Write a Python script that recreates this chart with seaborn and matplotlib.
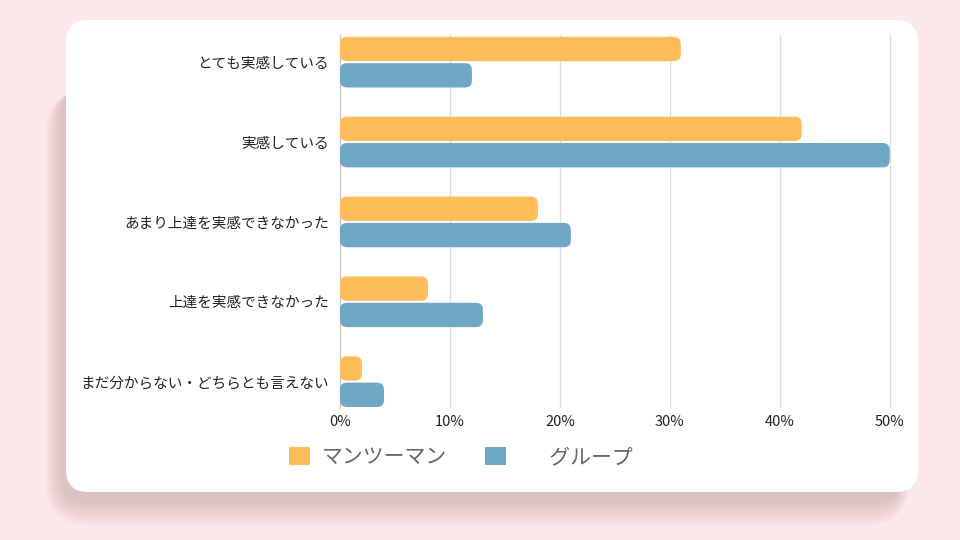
import pandas as pd
import matplotlib
matplotlib.use("Agg")
import matplotlib.pyplot as plt
import seaborn as sns
from matplotlib.patches import FancyBboxPatch, Patch

# Data (percent)
categories = ["とても実感している", "実感している", "あまり上達を実感できなかった",
              "上達を実感できなかった", "まだ分からない・どちらとも言えない"]
man_to_man = [31, 42, 18, 8, 2]
group = [12, 50, 21, 13, 4]
series_names = ["マンツーマン", "\u3000\u2002グループ"]
x_ticks = [0, 10, 20, 30, 40, 50]
x_tick_labels = ["0%", "10%", "20%", "30%", "40%", "50%"]

df = pd.DataFrame({
    "category": categories * 2,
    "value": man_to_man + group,
    "series": [series_names[0]] * len(categories) + [series_names[1]] * len(categories),
})

colors = ["#FFBD5A", "#6EA8C4"]
bg = "#FDE8E9"

sns.set_style("white")
plt.rcParams["font.family"] = ["Noto Sans CJK JP", "DejaVu Sans"]

fig = plt.figure(figsize=(9.6, 5.4), dpi=100)
fig.patch.set_facecolor(bg)

# card shadow: soft, shifted down and a bit to the left
card_l, card_r, card_t, card_b = 66, 918, 20, 492
dx, dy = -4, 10
for i in range(16):
    g = 1.6 * i  # px grow
    l = card_l + dx - g * 0.7
    r = card_r + dx + g * 0.4 - 14
    t = card_t + dy + 60
    b = card_b + dy + g
    sh = FancyBboxPatch((l / 960, 1 - b / 540), (r - l) / 960, (b - t) / 540,
                        boxstyle="round,pad=0,rounding_size=%f" % ((22 + g) / 960),
                        mutation_aspect=960 / 540,
                        transform=fig.transFigure, facecolor="#7a5a5a", edgecolor="none",
                        alpha=0.014, zorder=0)
    fig.add_artist(sh)

# card
card = FancyBboxPatch((card_l / 960, 1 - card_b / 540), (card_r - card_l) / 960, (card_b - card_t) / 540,
                      boxstyle="round,pad=0,rounding_size=0.023", mutation_aspect=960 / 540,
                      transform=fig.transFigure, facecolor="white", edgecolor="none", zorder=1)
fig.add_artist(card)

ax = fig.add_axes([340 / 960, 1 - 408 / 540, (893 - 340) / 960, (408 - 35) / 540])
ax.set_facecolor("none")
ax.set_zorder(2)

sns.barplot(data=df, y="category", x="value", hue="series", orient="h",
            palette=colors, width=0.66, ax=ax, legend=False, saturation=1)

ax.set_xlim(0, 50.3)
ax.set_ylim(4.33, -0.34)

# rounded bars
x_per_px = 50.3 / (893 - 340)
y_per_px = 4.67 / (408 - 35)
bars = list(ax.patches)
for p in bars:
    x, y = p.get_x(), p.get_y()
    w, h = p.get_width(), p.get_height()
    fc = p.get_facecolor()
    p.remove()
    gap = 1.0 * y_per_px
    rb = FancyBboxPatch((x, y + gap), w, h - 2 * gap,
                        boxstyle="round,pad=0,rounding_size=%f" % (7 * x_per_px),
                        mutation_aspect=y_per_px / x_per_px,
                        facecolor=fc, edgecolor="none", zorder=3)
    ax.add_patch(rb)

ax.set_xticks(x_ticks)
ax.set_xticklabels(x_tick_labels)
ax.set_xlabel("")
ax.set_ylabel("")
ax.tick_params(axis="both", length=0, labelsize=10.5, labelcolor="#222222")
ax.tick_params(axis="y", pad=8)
ax.tick_params(axis="x", pad=5)

for v in x_ticks[1:]:
    ax.axvline(v, color="#dddddd", lw=1, zorder=1)
for s in ["top", "right", "bottom"]:
    ax.spines[s].set_visible(False)
ax.spines["left"].set_color("#d2c4c6")
ax.spines["left"].set_linewidth(1)

handles = [Patch(facecolor=colors[0], edgecolor="none"), Patch(facecolor=colors[1], edgecolor="none")]
leg = fig.legend(handles, series_names, loc="center", bbox_to_anchor=(461 / 960, 1 - 457 / 540),
                 ncol=2, frameon=False, fontsize=15, handlelength=1.0, handleheight=1.0,
                 handletextpad=0.6, columnspacing=1.8, labelcolor="#666666")

fig.savefig("out.png", dpi=100, facecolor=bg)
